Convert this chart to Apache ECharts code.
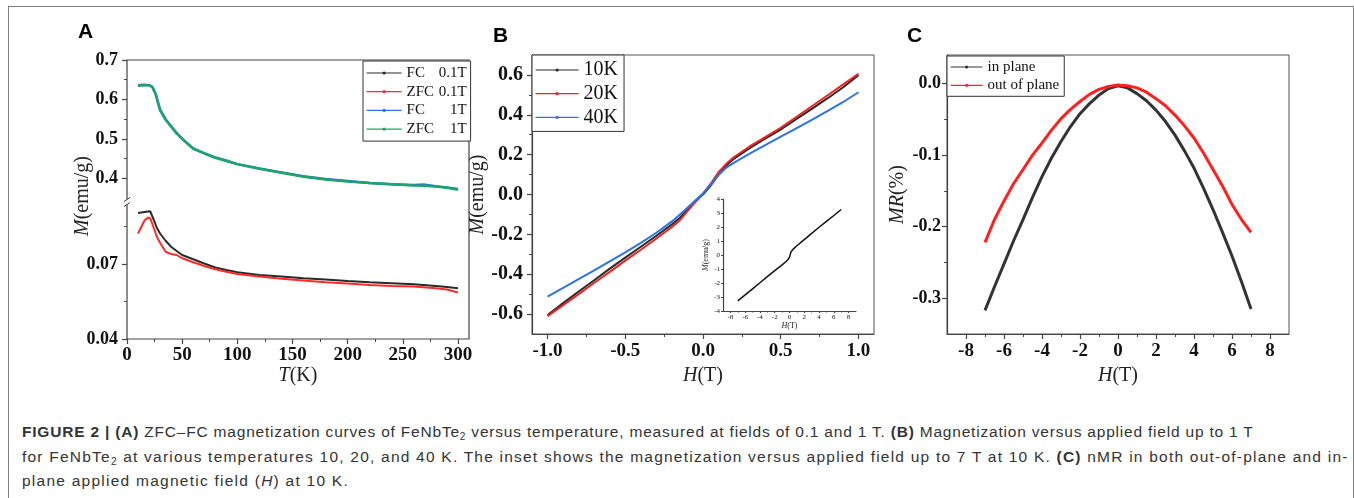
<!DOCTYPE html>
<html>
<head>
<meta charset="utf-8">
<script src="https://cdn.jsdelivr.net/npm/echarts@6/dist/echarts.min.js"></script>
<style>
  html, body { margin: 0; padding: 0; background: #fff; }
  #wrap { position: relative; width: 1354px; height: 498px; overflow: hidden; }
  #frame { position: absolute; left: 8px; top: 6px; width: 1344px; height: 600px; border: 1px solid #808080; }
  #main { position: absolute; left: 0; top: 0; width: 1354px; height: 400px; }
  .cap { position: absolute; left: 22px; font-family: "Liberation Sans", Arial, sans-serif; font-size: 15.5px;
         letter-spacing: 0.8px; color: #333; white-space: nowrap; line-height: 20px; }
  .cap sub { font-size: 10px; vertical-align: -3px; line-height: 0; }
</style>
</head>
<body>
<div id="wrap">
  <div id="frame"></div>
  <div id="main"></div>
  <div class="cap" style="top:422px"><b>FIGURE 2 | (A)</b> ZFC–FC magnetization curves of FeNbTe<sub>2</sub> versus temperature, measured at fields of 0.1 and 1 T. <b>(B)</b> Magnetization versus applied field up to 1 T</div>
  <div class="cap" style="top:447px; letter-spacing:1.22px">for FeNbTe<sub>2</sub> at various temperatures 10, 20, and 40 K. The inset shows the magnetization versus applied field up to 7 T at 10 K. <b>(C)</b> nMR in both out-of-plane and in-</div>
  <div class="cap" style="top:471px; letter-spacing:1.25px">plane applied magnetic field (<i>H</i>) at 10 K.</div>
</div>
<script>
// ---- panel A: M vs T, 1 T curves (upper part of broken axis)
const tA1T = [10, 15, 20, 23, 26, 30, 35, 40, 45, 50, 60, 70, 80, 90, 100, 120, 140, 160, 180, 200, 220, 240, 260, 270, 280, 290, 300]
const fc1T = [0.636, 0.637, 0.636, 0.632, 0.614, 0.574, 0.550, 0.532, 0.515, 0.500, 0.476, 0.464, 0.453, 0.445, 0.436, 0.425, 0.415, 0.405, 0.398, 0.393, 0.388, 0.385, 0.383, 0.384, 0.380, 0.377, 0.373]
const zfc1T = [0.635, 0.636, 0.636, 0.631, 0.613, 0.572, 0.548, 0.531, 0.514, 0.500, 0.475, 0.463, 0.452, 0.444, 0.436, 0.424, 0.414, 0.404, 0.397, 0.392, 0.388, 0.385, 0.382, 0.381, 0.379, 0.376, 0.371]
// ---- panel A: 0.1 T curves (lower part)
const tA01 = [10, 13, 16, 19, 21, 22, 25, 27, 30, 35, 40, 45, 50, 60, 70, 80, 90, 100, 120, 140, 160, 180, 200, 220, 240, 260, 280, 290, 300]
const fc01 = [0.0904, 0.0906, 0.0908, 0.0910, 0.0911, 0.0904, 0.0869, 0.0845, 0.0822, 0.0793, 0.0769, 0.0752, 0.0736, 0.0719, 0.0702, 0.0686, 0.0676, 0.0667, 0.0656, 0.0650, 0.0643, 0.0638, 0.0632, 0.0627, 0.0623, 0.0619, 0.0612, 0.0608, 0.0603]
const zfc01 = [0.0822, 0.0849, 0.0875, 0.0886, 0.0882, 0.0872, 0.0835, 0.0809, 0.0785, 0.0749, 0.0740, 0.0736, 0.0723, 0.0707, 0.0692, 0.0679, 0.0669, 0.0660, 0.0650, 0.0641, 0.0634, 0.0627, 0.0622, 0.0616, 0.0612, 0.0610, 0.0603, 0.0598, 0.0586]

// ---- panel B: M vs H up to 1 T
const hB = [-1, -0.9, -0.8, -0.7, -0.6, -0.5, -0.4, -0.3, -0.2, -0.15, -0.1, -0.05, 0, 0.05, 0.1, 0.15, 0.2, 0.3, 0.4, 0.5, 0.6, 0.7, 0.8, 0.9, 1]
const m10K = [-0.605, -0.545, -0.487, -0.430, -0.372, -0.317, -0.262, -0.207, -0.150, -0.118, -0.075, -0.035, 0.000, 0.045, 0.100, 0.145, 0.180, 0.232, 0.280, 0.326, 0.378, 0.430, 0.482, 0.537, 0.598]
const m20K = [-0.610, -0.555, -0.500, -0.443, -0.388, -0.332, -0.277, -0.221, -0.163, -0.130, -0.083, -0.038, 0.004, 0.054, 0.112, 0.154, 0.188, 0.241, 0.288, 0.335, 0.389, 0.443, 0.497, 0.551, 0.605]
const m40K = [-0.513, -0.469, -0.425, -0.381, -0.336, -0.290, -0.243, -0.192, -0.135, -0.102, -0.066, -0.030, 0.005, 0.050, 0.098, 0.135, 0.160, 0.205, 0.248, 0.290, 0.332, 0.374, 0.418, 0.463, 0.513]
// inset: M vs H up to 7 T at 10 K
const hIn = [-7, -6, -5, -4, -3, -2, -1, -0.5, -0.2, 0, 0.2, 0.5, 1, 2, 3, 4, 5, 6, 7]
const mIn = [-3.28, -2.85, -2.42, -1.98, -1.55, -1.12, -0.70, -0.48, -0.32, -0.15, 0.22, 0.42, 0.66, 1.10, 1.54, 1.98, 2.40, 2.82, 3.25]

// ---- panel C: MR vs H
const hC = [-7, -6.5, -6, -5.5, -5, -4.5, -4, -3.5, -3, -2.5, -2, -1.5, -1, -0.5, 0, 0.5, 1, 1.5, 2, 2.5, 3, 3.5, 4, 4.5, 5, 5.5, 6, 6.5, 7]
const mrIn = [-0.317, -0.284, -0.252, -0.220, -0.190, -0.159, -0.130, -0.104, -0.081, -0.060, -0.042, -0.028, -0.016, -0.007, -0.003, -0.006, -0.014, -0.024, -0.037, -0.053, -0.072, -0.094, -0.118, -0.146, -0.176, -0.208, -0.241, -0.277, -0.315]
const mrOut = [-0.222, -0.190, -0.164, -0.140, -0.120, -0.100, -0.083, -0.065, -0.049, -0.036, -0.025, -0.015, -0.008, -0.004, -0.002, -0.003, -0.006, -0.012, -0.021, -0.031, -0.044, -0.059, -0.076, -0.097, -0.120, -0.143, -0.169, -0.190, -0.208]

// tick values
const ticksAT = [0, 50, 100, 150, 200, 250, 300]
const minorAT = [25, 75, 125, 175, 225, 275]
const ticksAHi = [0.4, 0.5, 0.6, 0.7]
const minorAHi = [0.45, 0.55, 0.65]
const ticksALo = [0.04, 0.07]
const minorALo = [0.055, 0.085]
const ticksBH = [-1, -0.5, 0, 0.5, 1]
const minorBH = [-0.75, -0.25, 0.25, 0.75]
const ticksBM = [-0.6, -0.4, -0.2, 0, 0.2, 0.4, 0.6]
const minorBM = [-0.5, -0.3, -0.1, 0.1, 0.3, 0.5]
const ticksInH = [-8, -6, -4, -2, 0, 2, 4, 6, 8]
const minorInH = [-7, -5, -3, -1, 1, 3, 5, 7]
const ticksInM = [-4, -3, -2, -1, 0, 1, 2, 3, 4]
const ticksCH = [-8, -6, -4, -2, 0, 2, 4, 6, 8]
const minorCH = [-7, -5, -3, -1, 1, 3, 5, 7]
const ticksCMR = [-0.3, -0.2, -0.1, 0]
const minorCMR = [-0.25, -0.15, -0.05]

const serif = '"Liberation Serif", "Times New Roman", serif'
const sans = '"Liberation Sans", Arial, sans-serif'
const axisColor = '#444'

const pairs = (xs, ys) => xs.map((x, i) => [x, ys[i]])

function mainAxis(grid, pos, min, max, ticks, opt) {
  return {
    type: 'value', gridIndex: grid, position: pos, min: min, max: max,
    axisLine: { show: opt.line !== false, onZero: false, lineStyle: { color: axisColor, width: 1.2 } },
    axisTick: { show: ticks.length > 0, customValues: ticks, length: opt.tickLen || 5, lineStyle: { color: axisColor, width: 1.2 } },
    axisLabel: {
      show: opt.labels !== false, customValues: ticks, formatter: opt.fmt, margin: opt.margin || 8,
      fontFamily: serif, fontWeight: opt.weight || 'bold', fontSize: opt.fontSize || 18, color: '#111'
    },
    splitLine: { show: false },
    name: opt.name || '',
    nameLocation: 'middle',
    nameGap: opt.nameGap || 20,
    nameTextStyle: {
      fontFamily: serif, fontSize: opt.nameSize || 20, color: '#222',
      rich: { i: { fontFamily: serif, fontSize: opt.nameSize || 20, fontStyle: 'italic', color: '#222' } }
    }
  }
}
function minorAxis(grid, pos, min, max, ticks, len) {
  return {
    type: 'value', gridIndex: grid, position: pos, min: min, max: max,
    axisLine: { show: false, onZero: false },
    axisLabel: { show: false },
    splitLine: { show: false },
    axisTick: { show: true, customValues: ticks, length: len || 3, lineStyle: { color: axisColor, width: 1 } }
  }
}
function lineSeries(name, xi, yi, data, color, width) {
  return {
    name: name, type: 'line', xAxisIndex: xi, yAxisIndex: yi, data: data,
    showSymbol: false, symbol: 'circle', symbolSize: 4,
    lineStyle: { color: color, width: width }, itemStyle: { color: color },
    animation: false
  }
}

const xAxes = []
const yAxes = []
const add = (list, ax) => { list.push(ax); return list.length - 1 }

// grids: 0 A upper, 1 A lower, 2 B, 3 B inset, 4 C, 5 A frame
const grids = [
  { left: 127, top: 60, width: 342, height: 140 },
  { left: 127, top: 204, width: 342, height: 135 },
  { left: 532, top: 55, width: 342, height: 279, show: true, borderColor: '#555', borderWidth: 1 },
  { left: 723, top: 199, width: 133, height: 112 },
  { left: 947, top: 55, width: 342, height: 279, show: true, borderColor: '#555', borderWidth: 1 },
  { left: 127, top: 60, width: 342, height: 279, show: true, borderColor: '#444', borderWidth: 1.2 }
]

// panel A axes
const xAHi = add(xAxes, mainAxis(0, 'bottom', 0, 310, [], { line: false, labels: false }))
const yAHi = add(yAxes, mainAxis(0, 'left', 0.345, 0.7, ticksAHi, { line: false, fontSize: 18, margin: 9, fmt: v => v.toFixed(1) }))
add(yAxes, minorAxis(0, 'left', 0.345, 0.7, minorAHi))
const xALo = add(xAxes, mainAxis(1, 'bottom', 0, 310, ticksAT, {
  line: false, fontSize: 19, margin: 7, fmt: v => String(v),
  name: '{i|T}(K)', nameGap: 21
}))
add(xAxes, minorAxis(1, 'bottom', 0, 310, minorAT))
const yALo = add(yAxes, mainAxis(1, 'left', 0.04, 0.094, ticksALo, { line: false, fontSize: 18, margin: 9, fmt: v => v.toFixed(2) }))
add(yAxes, minorAxis(1, 'left', 0.04, 0.094, minorALo))

// panel B axes
const xB = add(xAxes, mainAxis(2, 'bottom', -1.1, 1.1, ticksBH, {
  fontSize: 19, margin: 8, fmt: v => v.toFixed(1), name: '{i|H}(T)', nameGap: 24
}))
add(xAxes, minorAxis(2, 'bottom', -1.1, 1.1, minorBH))
const yB = add(yAxes, mainAxis(2, 'left', -0.7, 0.7, ticksBM, {
  fontSize: 20, margin: 9, fmt: v => v.toFixed(1), name: '{i|M}(emu/g)', nameGap: 37
}))
add(yAxes, minorAxis(2, 'left', -0.7, 0.7, minorBM))

// inset axes
const xIn = add(xAxes, mainAxis(3, 'bottom', -9, 9, ticksInH, {
  fontSize: 7, weight: 'normal', margin: 3, tickLen: 2, fmt: v => String(v),
  name: '{i|H}(T)', nameGap: 9, nameSize: 8
}))
add(xAxes, minorAxis(3, 'bottom', -9, 9, minorInH, 1.5))
const yIn = add(yAxes, mainAxis(3, 'left', -4, 4, ticksInM, {
  fontSize: 7, weight: 'normal', margin: 3, tickLen: 2, fmt: v => String(v),
  name: '{i|M}(emu/g)', nameGap: 9, nameSize: 8
}))

// panel C axes
const xC = add(xAxes, mainAxis(4, 'bottom', -9, 9, ticksCH, {
  fontSize: 19, margin: 8, fmt: v => String(v), name: '{i|H}(T)', nameGap: 24
}))
add(xAxes, minorAxis(4, 'bottom', -9, 9, minorCH))
const yC = add(yAxes, mainAxis(4, 'left', -0.35, 0.04, ticksCMR, {
  fontSize: 18, margin: 6, fmt: v => v.toFixed(1), name: '{i|MR}(%)', nameGap: 39
}))
add(yAxes, minorAxis(4, 'left', -0.35, 0.04, minorCMR))

const series = [
  lineSeries('FC 1T', xAHi, yAHi, pairs(tA1T, fc1T), '#2f6fe4', 2.5),
  lineSeries('ZFC 1T', xAHi, yAHi, pairs(tA1T, zfc1T), '#1ea36c', 2.5),
  lineSeries('FC 0.1T', xALo, yALo, pairs(tA01, fc01), '#2a2a2a', 2),
  lineSeries('ZFC 0.1T', xALo, yALo, pairs(tA01, zfc01), '#ff2b2b', 2),
  lineSeries('10K', xB, yB, pairs(hB, m10K), '#2a2a2a', 2),
  lineSeries('20K', xB, yB, pairs(hB, m20K), '#ee2222', 2),
  lineSeries('40K', xB, yB, pairs(hB, m40K), '#2b74e6', 2),
  lineSeries('inset', xIn, yIn, pairs(hIn, mIn), '#111', 1.5),
  lineSeries('in plane', xC, yC, pairs(hC, mrIn), '#333', 3),
  lineSeries('out of plane', xC, yC, pairs(hC, mrOut), '#ff2020', 3)
]

// small itemHeight keeps the dot on the legend line tiny, like the original
const legends = [
  {
    data: ['FC 0.1T', 'ZFC 0.1T', 'FC 1T', 'ZFC 1T'], orient: 'vertical', left: 363, top: 61,
    itemWidth: 35, itemHeight: 4, itemGap: 2.7, padding: [4, 4, 4, 3],
    borderColor: '#333', borderWidth: 1, backgroundColor: '#fff',
    lineStyle: { width: 1.2 },
    formatter: name => { const p = name.split(' '); return '{a|' + p[0] + '}{b|' + p[1] + '}' },
    textStyle: {
      fontFamily: serif, fontSize: 15, color: '#111', lineHeight: 16,
      rich: {
        a: { width: 30, fontFamily: serif, fontSize: 15, color: '#111', lineHeight: 16 },
        b: { width: 30, align: 'right', fontFamily: serif, fontSize: 15, color: '#111', lineHeight: 16 }
      }
    }
  },
  {
    data: ['10K', '20K', '40K'], orient: 'vertical', left: 532, top: 55,
    itemWidth: 43, itemHeight: 4, itemGap: 3.7, padding: [5, 6, 4, 3],
    borderColor: '#333', borderWidth: 1, backgroundColor: '#fff',
    lineStyle: { width: 1.2 },
    textStyle: { fontFamily: serif, fontSize: 20, color: '#111', lineHeight: 20 }
  },
  {
    data: ['in plane', 'out of plane'], orient: 'vertical', left: 947, top: 56,
    itemWidth: 32, itemHeight: 4, itemGap: 2.3, padding: [3, 5, 3, 3],
    borderColor: '#333', borderWidth: 1, backgroundColor: '#fff',
    lineStyle: { width: 1.2 },
    textStyle: { fontFamily: serif, fontSize: 15, color: '#111', lineHeight: 16 }
  }
]

const graphic = [
  { type: 'text', left: 78, top: 22, style: { text: 'A', font: 'bold 21px ' + sans, fill: '#000' } },
  { type: 'text', left: 493, top: 26, style: { text: 'B', font: 'bold 21px ' + sans, fill: '#000' } },
  { type: 'text', left: 907, top: 26, style: { text: 'C', font: 'bold 21px ' + sans, fill: '#000' } },
  {
    type: 'text', x: 83, y: 196, rotation: Math.PI / 2,
    style: {
      text: '{i|M}(emu/g)', align: 'center', verticalAlign: 'middle', fill: '#222',
      font: '20px ' + serif,
      rich: { i: { fontFamily: serif, fontSize: 20, fontStyle: 'italic', color: '#222' } }
    }
  },
  // axis break on the left spine of panel A
  { type: 'rect', shape: { x: 121, y: 199.5, width: 12, height: 5 }, style: { fill: '#fff' }, z: 10 },
  { type: 'line', shape: { x1: 124, y1: 201.5, x2: 130, y2: 197.5 }, style: { stroke: '#444', lineWidth: 1 }, z: 11 },
  { type: 'line', shape: { x1: 124, y1: 206.5, x2: 130, y2: 202.5 }, style: { stroke: '#444', lineWidth: 1 }, z: 11 }
]

const chart = echarts.init(document.getElementById('main'))
chart.setOption({
  animation: false,
  grid: grids,
  xAxis: xAxes,
  yAxis: yAxes,
  legend: legends,
  series: series,
  graphic: graphic
})
</script>
</body>
</html>
